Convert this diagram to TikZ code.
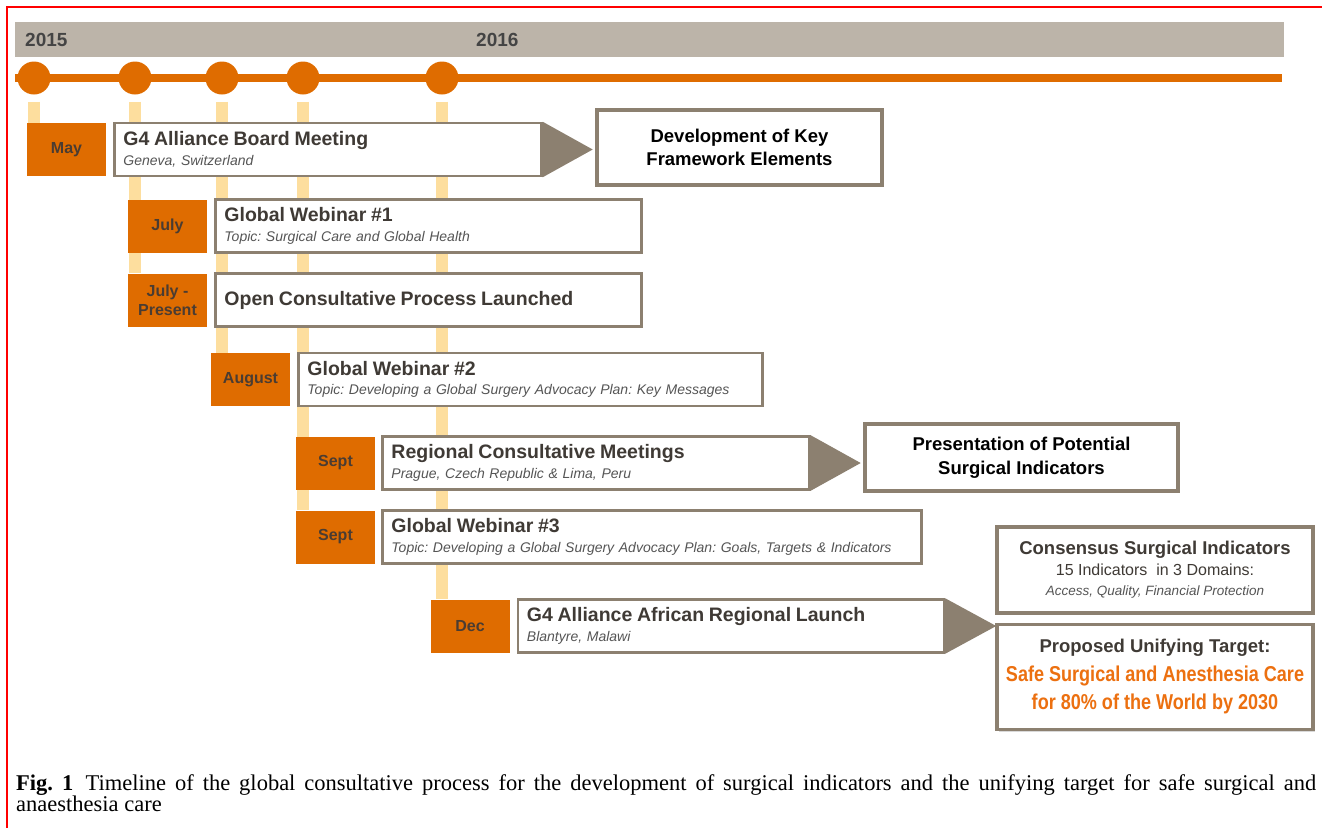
\documentclass[tikz,border=0pt]{standalone}
\usepackage{fontspec}
\setmainfont{Liberation Sans}
\newfontfamily\capfont{Liberation Serif}
\newfontfamily\narrowfont[FakeStretch=0.84]{Liberation Sans}
\usetikzlibrary{positioning,shadows}
\pgfdeclarelayer{background}
\pgfsetlayers{background,main}
\frenchspacing

\newcommand{\evtitle}[1]{{\fontsize{19.5}{22}\selectfont\bfseries\color{titletext}#1}}
\newcommand{\evsub}[1]{{\fontsize{14}{19}\selectfont\itshape\color{subtext}#1}}

\begin{document}
\begin{tikzpicture}[x=1pt, y=-1pt,
  month/.style={fill=orangec, text=monthtext, font=\fontsize{16}{19}\selectfont\bfseries,
    minimum width=79pt, minimum height=53pt, inner sep=2pt, align=center},
  event/.style={draw=taupe, line width=2.5pt, fill=white, minimum height=53pt,
    inner xsep=9pt, inner ysep=2pt, align=left, font=\fontsize{14}{19.5}\selectfont},
  outcome/.style={draw=taupe, line width=3.5pt, fill=white, align=center, inner sep=2pt,
    drop shadow={opacity=0.3, shadow xshift=2pt, shadow yshift=-2pt},
    text=black, font=\fontsize{18.5}{23.5}\selectfont\bfseries},
  dot/.style={circle, fill=orangec, minimum size=33pt, inner sep=0pt},
  stem/.style={draw=pale, line width=12pt},
  year/.style={anchor=west, text=yeartext, inner sep=0pt, font=\fontsize{19}{22}\selectfont\bfseries},
  pointer/.style={fill=taupe}
]
\definecolor{orangec}{HTML}{DF6C00}
\definecolor{pale}{HTML}{FDDE9E}
\definecolor{barcol}{HTML}{BCB4A9}
\definecolor{taupe}{HTML}{8C8070}
\definecolor{titletext}{HTML}{3F3A35}
\definecolor{subtext}{HTML}{555555}
\definecolor{monthtext}{HTML}{4A3C32}
\definecolor{yeartext}{HTML}{444444}
\definecolor{outorange}{HTML}{EC7010}

\useasboundingbox (0,0) rectangle (1322,828);
\draw[red, line width=2.2pt] (1322,7) -- (7,7) -- (7,828);

\fill[barcol] (15,22) rectangle (1284,57);
\node[year] (y2015) at (25,40) {2015};
\node[year] (y2016) at (476,40) {2016};

\coordinate (tstart) at (15,78);
\coordinate (tend) at (1282,78);
\draw[orangec, line width=8pt] (tstart) -- (tend);
\foreach \x [count=\i] in {34,135,222,303,442}
  \node[dot] (c\i) at (\x,78) {};

\node[month] (may) at (66.5,149.5) {May};
\node[month] (july) at (167.5,226) {July};
\node[month] (julyp) at (167.5,300) {July -\\Present};
\node[month] (aug) at (250.5,379.5) {August};
\node[month] (sept1) at (335.5,463) {Sept};
\node[month] (sept2) at (335.5,537) {Sept};
\node[month] (dec) at (470,626) {Dec};

\node[event, text width=409pt, right=7pt of may] (g4) {\evtitle{G4 Alliance Board Meeting}\\\evsub{Geneva, Switzerland}};
\node[event, text width=408pt, right=7pt of july] (web1) {\evtitle{Global Webinar \#1}\\\evsub{Topic: Surgical Care and Global Health}};
\node[event, text width=408pt, right=7pt of julyp] (open) {\evtitle{Open Consultative Process Launched}};
\node[event, text width=446pt, right=7pt of aug] (web2) {\evtitle{Global Webinar \#2}\\\evsub{Topic: Developing a Global Surgery Advocacy Plan: Key Messages}};
\node[event, text width=409pt, right=6pt of sept1] (reg) {\evtitle{Regional Consultative Meetings}\\\evsub{Prague, Czech Republic \& Lima, Peru}};
\node[event, text width=521pt, right=6pt of sept2] (web3) {\evtitle{Global Webinar \#3}\\\evsub{Topic: Developing a Global Surgery Advocacy Plan: Goals, Targets \& Indicators}};
\node[event, text width=408pt, right=7pt of dec] (afr) {\evtitle{G4 Alliance African Regional Launch}\\\evsub{Blantyre, Malawi}};

\node[outcome, minimum width=285pt, minimum height=75pt] (dev) at (739.5,147.5) {Development of Key\\Framework Elements};
\node[outcome, minimum width=313pt, minimum height=67pt] (pres) at (1021.5,457.5) {Presentation of Potential\\Surgical Indicators};
\node[outcome, minimum width=316pt, minimum height=86pt, font=\fontsize{16}{20.5}\selectfont] (cons) at (1155,570)
  {{\fontsize{18.5}{22}\selectfont\bfseries\color{titletext}Consensus Surgical Indicators}\\
   {\color{titletext}15 Indicators~ in 3 Domains:}\\
   {\fontsize{13.5}{16}\selectfont\itshape\color{subtext}Access, Quality, Financial Protection}};
\node[outcome, minimum width=316pt, minimum height=105pt, font=\fontsize{18.5}{28.5}\selectfont\bfseries] (prop) at (1155,677)
  {{\color{titletext}Proposed Unifying Target:}\\
   {\narrowfont\bfseries\fontsize{21.5}{28.5}\selectfont\color{outorange}Safe Surgical and Anesthesia Care}\\
   {\narrowfont\bfseries\fontsize{21.5}{28.5}\selectfont\color{outorange}for 80\% of the World by 2030}};

\fill[pointer] (g4.north east) -- ([xshift=50pt]g4.east) -- (g4.south east) -- cycle;
\fill[pointer] (reg.north east) -- ([xshift=50pt]reg.east) -- (reg.south east) -- cycle;
\fill[pointer] (afr.north east) -- ([xshift=51pt]afr.east) -- (afr.south east) -- cycle;

\begin{pgfonlayer}{background}
\draw[stem] ([yshift=-7pt]c1.south) -- (c1.south |- may.north);
\draw[stem] ([yshift=-7pt]c2.south) -- (c2.south |- julyp.north);
\draw[stem] ([yshift=-7pt]c3.south) -- (c3.south |- aug.north);
\draw[stem] ([yshift=-7pt]c4.south) -- (c4.south |- sept2.north);
\draw[stem] ([yshift=-7pt]c5.south) -- (c5.south |- dec.north);
\end{pgfonlayer}

\node[anchor=north west, text width=1300pt, align=justify, inner sep=0pt,
  font=\capfont\fontsize{22.5}{20.5}\selectfont] (caption) at (16,774)
  {\textbf{Fig. 1}\hspace{0.55em}Timeline of the global consultative process for the development of surgical indicators and the unifying target for safe surgical and\linebreak anaesthesia care};
\end{tikzpicture}
\end{document}
